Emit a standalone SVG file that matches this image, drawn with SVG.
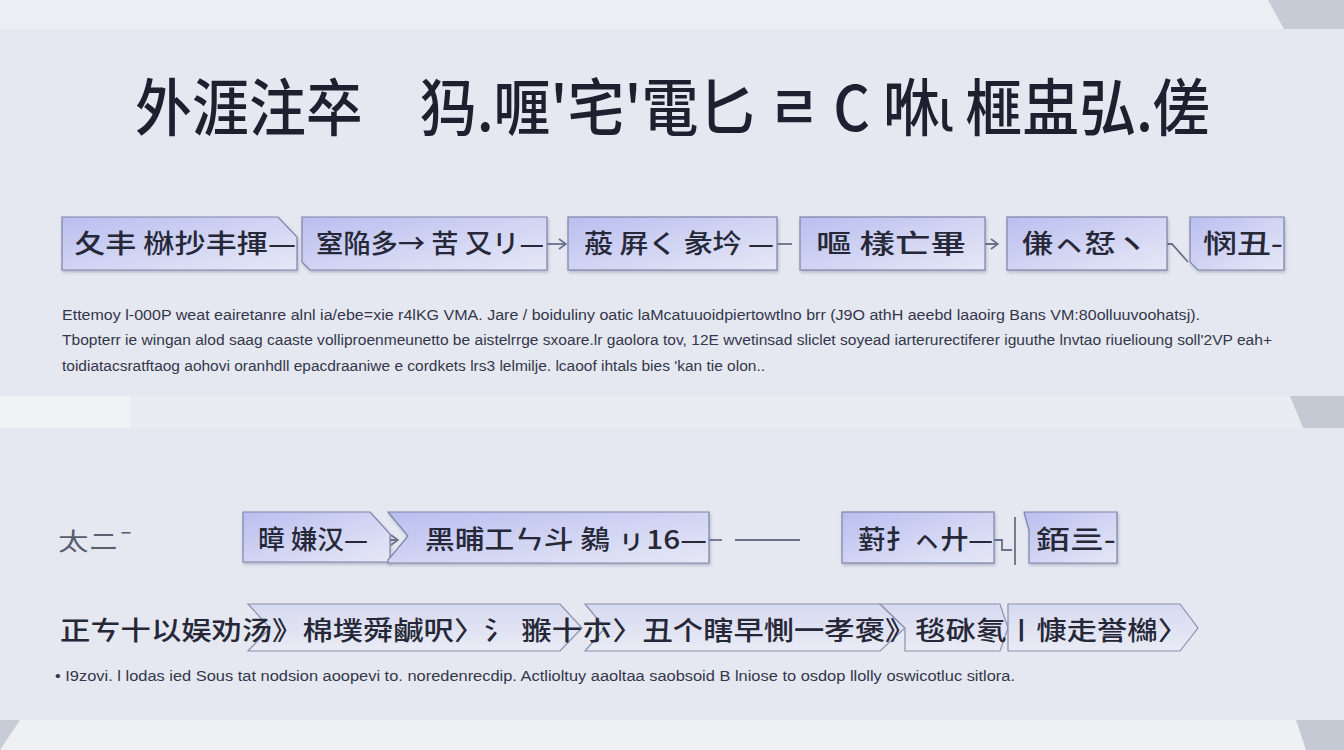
<svg xmlns="http://www.w3.org/2000/svg" width="1344" height="750" viewBox="0 0 1344 750">
<defs>
<linearGradient id="bx" x1="0" y1="0" x2="1" y2="1">
<stop offset="0" stop-color="#b9bef0"/>
<stop offset="0.55" stop-color="#d3d6f3"/>
<stop offset="1" stop-color="#e6e8f6"/>
</linearGradient>
<linearGradient id="rb" x1="0" y1="0" x2="0" y2="1">
<stop offset="0" stop-color="#d7daf0"/>
<stop offset="1" stop-color="#e9ebf5"/>
</linearGradient>
<filter id="sh" x="-5%" y="-10%" width="110%" height="130%">
<feDropShadow dx="1" dy="2" stdDeviation="1.5" flood-color="#5a6080" flood-opacity="0.35"/>
</filter>
<marker id="ah" markerWidth="10" markerHeight="12" refX="8" refY="6" orient="auto" markerUnits="userSpaceOnUse">
<path d="M1,1 L8,6 L1,11" fill="none" stroke="#6a6f8a" stroke-width="1.6"/>
</marker>
</defs>
<style>
.box{fill:url(#bx);stroke:#7e84a8;stroke-width:1.2;filter:url(#sh)}
.rib{fill:url(#rb);stroke:#8a8fae;stroke-width:1.2}
.cj{font-family:"Noto Sans CJK SC","Noto Sans CJK JP",sans-serif;fill:#262838;font-weight:500}
.t1{font-size:26px}
.tt{font-size:62px;fill:#1e2030}
.lb{fill:#5a5d6e;font-weight:400;font-size:24px}
.p{font-family:"Liberation Sans",Arial,sans-serif;font-size:14px;fill:#33364a}
.cn{fill:none;stroke:#6a6f8a;stroke-width:1.8}
</style>
<rect width="1344" height="750" fill="#e5e8f1"/>
<rect width="1344" height="29" fill="#eceef3"/>
<polygon points="1268,0 1344,0 1344,29 1284,29" fill="#c6cbd6"/>
<rect x="0" y="396" width="1344" height="32" fill="#eaecf2"/>
<rect x="0" y="396" width="130" height="32" fill="#f1f2f5"/>
<polygon points="1290,396 1344,396 1344,428 1303,428" fill="#c4c9d4"/>
<rect x="0" y="720" width="1344" height="30" fill="#eef0f4"/>
<polygon points="0,720 20,720 0,750" fill="#c8ccd6"/>
<polygon points="1296,720 1344,720 1344,750 1306,750" fill="#c4c9d4"/>

<g id="title">
<text class="cj tt" x="135" y="131" textLength="1075" lengthAdjust="spacingAndGlyphs">外涯注卒　犸.喱'宅'電匕 ㄹ C 咻ɩ 榧盅弘.傞</text>
</g>

<g id="connectors">
<path class="cn" d="M547,244 L566,244" marker-end="url(#ah)"/>
<path class="cn" d="M762,244 L792,244"/>
<path class="cn" d="M965,244 L998,244" marker-end="url(#ah)"/>
<path class="cn" d="M1150,244 L1172,244 L1188,262"/>
<path class="cn" d="M360,540 L398,540" marker-end="url(#ah)"/>
<path class="cn" d="M690,540 L722,540"/>
<path class="cn" d="M735,540 L800,540"/>
<path class="cn" d="M988,540 L1002,540 L1002,550 L1012,550"/>
<path class="cn" d="M1015,517 L1015,565"/>
</g>

<g id="n1">
<path class="box" d="M62,217 L278,217 L297,237 L297,270 L62,270 Z"/>
<text class="cj t1" x="74" y="253" textLength="222" lengthAdjust="spacingAndGlyphs">夂丰 椕抄丰揮—</text>
</g>
<g id="n2">
<path class="box" d="M302,217 L547,217 L547,270 L310,270 L302,262 Z"/>
<text class="cj t1" x="316" y="253" textLength="228" lengthAdjust="spacingAndGlyphs">窒陥多→ 苦 又リ—</text>
</g>
<g id="n3">
<rect class="box" x="568" y="217" width="209" height="53"/>
<text class="cj t1" x="584" y="253" textLength="190" lengthAdjust="spacingAndGlyphs">蒰 屛く 彖坅 —</text>
</g>
<g id="n4">
<rect class="box" x="800" y="217" width="185" height="53"/>
<text class="cj t1" x="816" y="253" textLength="150" lengthAdjust="spacingAndGlyphs">嘔 樣亡畢</text>
</g>
<g id="n5">
<rect class="box" x="1007" y="217" width="160" height="53"/>
<text class="cj t1" x="1022" y="253" textLength="125" lengthAdjust="spacingAndGlyphs">傔ㇸ恏ヽ</text>
</g>
<g id="n6">
<path class="box" d="M1190,217 L1284,217 L1284,270 L1198,270 L1190,262 Z"/>
<text class="cj t1" x="1203" y="253" textLength="80" lengthAdjust="spacingAndGlyphs">悯丑-</text>
</g>

<g id="para">
<text class="p" x="62" y="320" textLength="1138" lengthAdjust="spacingAndGlyphs">Ettemoy l-000P weat eairetanre alnl ia/ebe=xie r4lKG VMA. Jare / boiduliny oatic laMcatuuoidpiertowtlno brr (J9O  athH aeebd laaoirg Bans  VM:80olluuvoohatsj).</text>
<text class="p" x="62" y="345" textLength="1210" lengthAdjust="spacingAndGlyphs">Tbopterr ie wingan alod saag  caaste volliproenmeunetto be aistelrrge sxoare.lr gaolora tov,  12E wvetinsad sliclet soyead iarterurectiferer iguuthe lnvtao riuelioung soll'2VP eah+</text>
<text class="p" x="62" y="371" textLength="703" lengthAdjust="spacingAndGlyphs">toidiatacsratftaog aohovi oranhdll epacdraaniwe e cordkets lrs3 lelmilje. lcaoof ihtals bies 'kan tie olon..</text>
</g>

<g id="lab2">
<text class="cj lb" x="58" y="550" textLength="68" lengthAdjust="spacingAndGlyphs">太ニ ̄</text>
</g>
<g id="m1">
<path class="box" d="M243,512 L370,512 L390,534 L390,562 L243,562 Z"/>
<text class="cj t1" x="258" y="549" textLength="110" lengthAdjust="spacingAndGlyphs">暲 嫌汉—</text>
</g>
<g id="m2">
<path class="box" d="M388,512 L709,512 L709,563 L388,563 L388,560 L408,536 Z" />
<text class="cj t1" x="425" y="549" textLength="282" lengthAdjust="spacingAndGlyphs">黑晡工ㄣ斗  鶨  ㇼ16—</text>
</g>
<g id="m3">
<rect class="box" x="842" y="512" width="152" height="51"/>
<text class="cj t1" x="858" y="549" textLength="135" lengthAdjust="spacingAndGlyphs">薱扌ㇸ廾—</text>
</g>
<g id="m4">
<path class="box" d="M1024,512 L1117,512 L1117,563 L1029,563 L1029,530 Z"/>
<text class="cj t1" x="1036" y="549" textLength="80" lengthAdjust="spacingAndGlyphs">銆亖-</text>
</g>

<g id="r3">
<path class="rib" d="M248,604 L560,604 L582,628 L560,651 L248,651 L270,628 Z"/>
<path class="rib" d="M585,604 L880,604 L905,628 L880,651 L585,651 L605,628 Z"/>
<path class="rib" d="M880,604 L1000,604 L1008,628 L1000,651 L905,651 L905,628 Z"/>
<path class="rib" d="M1008,604 L1180,604 L1198,628 L1180,651 L1008,651 Z"/>
<text class="cj t1" x="60" y="640" textLength="1128" lengthAdjust="spacingAndGlyphs">正ㄘ十以娱劝汤》棉墣舜鹹呎〉氵 翭十朩〉丑个瞎早惻一孝褒》毯砯氡〡慷走誉檰〉</text>
</g>

<g id="foot">
<text class="p" x="55" y="681" font-size="13" textLength="960" lengthAdjust="spacingAndGlyphs">• I9zovi. l lodas ied Sous tat nodsion aoopevi to. noredenrecdip. Actlioltuy aaoltaa saobsoid B lniose to osdop llolly oswicotluc sitlora.</text>
</g>
</svg>
